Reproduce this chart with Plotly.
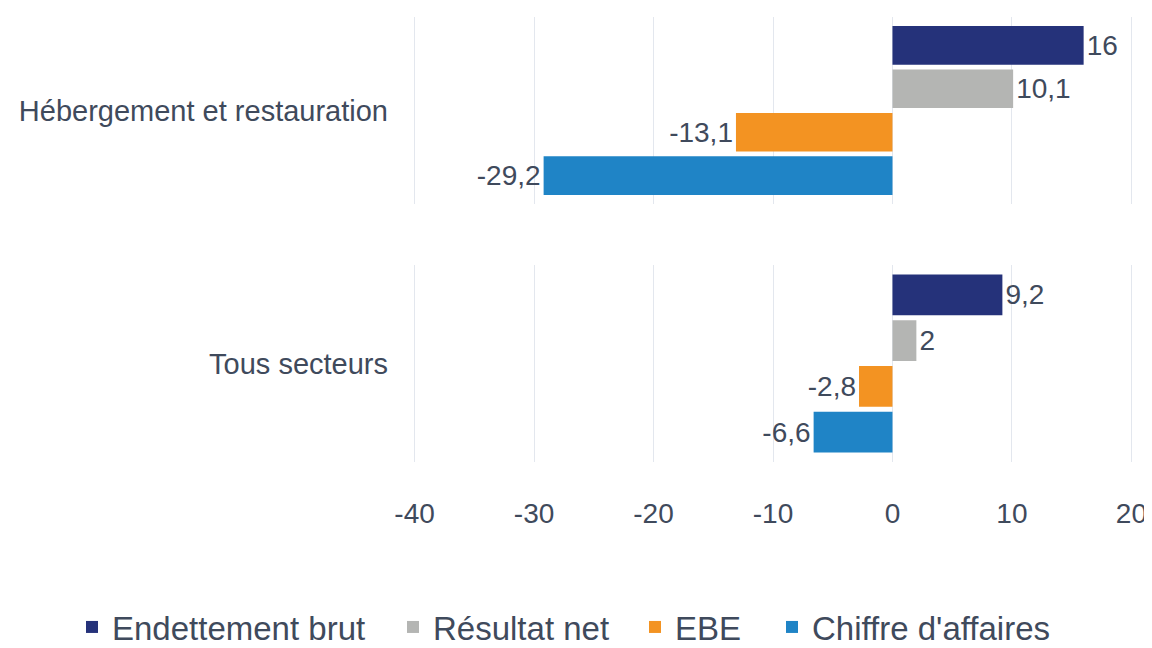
import plotly.graph_objects as go
from plotly.subplots import make_subplots

categories = ["Hébergement et restauration", "Tous secteurs"]
series_names = ["Endettement brut", "Résultat net", "EBE", "Chiffre d'affaires"]
values_hebergement = [16, 10.1, -13.1, -29.2]
values_tous = [9.2, 2, -2.8, -6.6]
colors = ["#25327a", "#b4b5b3", "#f39322", "#1f84c6"]
x_ticks = [-40, -30, -20, -10, 0, 10, 20]
x_tick_labels = ["-40", "-30", "-20", "-10", "0", "10", "20"]

FONT = "Liberation Sans Narrow, Arial Narrow, Liberation Sans, Arial, sans-serif"
TXT = "#3f4a5c"
GRID = "#e3e7ee"
FS = 28

# page body has an 8px margin: figure is sized so that it fits the 1152x648 window
W, H = 1144, 640
L, R, T, B = 403, 17, 9, 186
plot_w = W - L - R
plot_h = H - T - B
legend_widths = [276, 197, 92, 250]

def fmt(v):
    return f"{v:g}".replace(".", ",")

fig = make_subplots(rows=2, cols=1, shared_xaxes=True, vertical_spacing=0.136)

group_values = [values_hebergement, values_tous]
for row, (cat, vals) in enumerate(zip(categories, group_values), start=1):
    for i, name in enumerate(series_names):
        fig.add_trace(go.Bar(
            x=[vals[i]], y=[cat], orientation="h", name=name,
            marker=dict(color=colors[i], line=dict(width=0)),
            text=[fmt(vals[i])], textposition="outside",
            textfont=dict(family=FONT, size=FS, color=TXT),
            constraintext="none", cliponaxis=False,
            showlegend=(row == 1), legendgroup=name,
            legendwidth=legend_widths[i],
        ), row=row, col=1)

fig.update_layout(
    width=W, height=H,
    margin=dict(l=L, r=R, t=T, b=B, autoexpand=False),
    paper_bgcolor="white", plot_bgcolor="white",
    barmode="group", bargap=0.07, bargroupgap=0.11,
    font=dict(family=FONT, size=FS, color=TXT),
    legend=dict(orientation="h", xref="paper", yref="paper",
                x=(64 - L) / plot_w, xanchor="left",
                y=(H - B - 619) / plot_h, yanchor="middle",
                font=dict(family=FONT, size=33, color=TXT),
                itemwidth=30, tracegroupgap=0, traceorder="normal"),
)

for r in (1, 2):
    fig.update_xaxes(range=[-40.3, 20.3], tickvals=x_ticks, ticktext=x_tick_labels,
                     showgrid=True, gridcolor=GRID, automargin=False,
                     gridwidth=1, zeroline=False, showline=False, row=r, col=1)
    fig.update_yaxes(autorange="reversed", showgrid=False, showline=False, zeroline=False,
                     automargin=False, ticklabelstandoff=22,
                     tickfont=dict(family=FONT, size=29, color=TXT),
                     row=r, col=1)

fig.update_xaxes(showticklabels=False, row=1, col=1)
fig.update_xaxes(showticklabels=True, ticklabelstandoff=32,
                 tickfont=dict(family=FONT, size=FS, color=TXT), row=2, col=1)

top_lo = (H - B - 196) / plot_h
bot_hi = (H - B - 257) / plot_h
fig.update_layout(yaxis=dict(domain=[top_lo, 1.0]), yaxis2=dict(domain=[0.0, bot_hi]))

fig.write_html("out.html")
